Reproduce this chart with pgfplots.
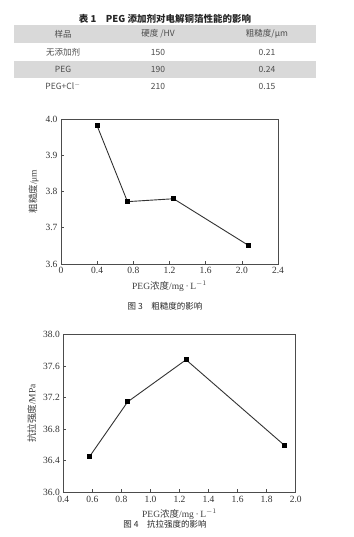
\documentclass[border=0pt]{standalone}
\usepackage{fontspec}
\setmainfont{Liberation Serif}
\newfontfamily\cjk{Noto Sans CJK SC}
\usepackage{pgfplots}
\pgfplotsset{compat=1.18}
\definecolor{tgray}{HTML}{D9D9D9}
\pgfplotsset{myax/.style={
  scale only axis, anchor=south west,
  xtick pos=lower, ytick pos=left, tick align=inside,
  major tick length=3pt,
  axis line style={black!70, line width=0.6pt},
  tick style={black!70, line width=0.6pt},
  tick label style={font=\fontsize{9.5}{11}\selectfont, text=black!80},
  label style={font=\fontsize{9.5}{11}\selectfont, text=black!75},
  /pgf/number format/assume math mode=true,
}, myplot/.style={line width=0.9pt, draw=black!80, mark=square*, mark size=2pt, mark options={fill=black, draw=black, solid}}}
\begin{document}
\begin{tikzpicture}[x=1pt,y=1pt]
\useasboundingbox (0,0) rectangle (353,537);
\fill[white] (0,0) rectangle (353,537);
% table
\fill[tgray] (14,494) rectangle (316,512);
\fill[tgray] (14,459) rectangle (316,476);
\node[font=\cjk\fontsize{9.5}{11}\selectfont\bfseries, text=black!85] at (165,518) {表 1\quad PEG 添加剂对电解铜箔性能的影响};
\begin{scope}[every node/.style={font=\cjk\fontsize{8.5}{10}\selectfont, text=black!70}]
\node at (63,503) {样品};
\node at (158,503) {硬度 /HV};
\node at (267,503) {粗糙度/μm};
\node at (63,485) {无添加剂};
\node at (158,485) {150};
\node at (267,485) {0.21};
\node at (63,467.5) {PEG};
\node at (158,467.5) {190};
\node at (267,467.5) {0.24};
\node at (63,451) {PEG+Cl$^{-}$};
\node at (158,451) {210};
\node at (267,451) {0.15};
\end{scope}
% chart 1
\begin{axis}[myax, at={(61pt,273pt)}, width=217pt, height=145pt,
  xmin=0, xmax=2.4, ymin=3.6, ymax=4.0,
  xtick={0,0.4,0.8,1.2,1.6,2.0,2.4}, xticklabels={0,0.4,0.8,1.2,1.6,2.0,2.4},
  ytick={3.6,3.7,3.8,3.9,4.0}, yticklabels={3.6,3.7,3.8,3.9,4.0},
  xlabel={PEG{\cjk 浓度}/mg\,·\,L$^{-1}$}, ylabel={{\cjk 粗糙度}/μm}]
\addplot[myplot] coordinates {(0.4,3.981)(0.735,3.772)(1.245,3.780)(2.075,3.651)};
\end{axis}
\node[font=\cjk\fontsize{8.5}{10}\selectfont, text=black!85] at (165,231) {图 3\quad 粗糙度的影响};
% chart 2
\begin{axis}[myax, at={(63.3pt,44.7pt)}, width=232.4pt, height=157.6pt,
  xmin=0.4, xmax=2.0, ymin=36.0, ymax=38.0,
  xtick={0.4,0.6,0.8,1.0,1.2,1.4,1.6,1.8,2.0}, xticklabels={0.4,0.6,0.8,1.0,1.2,1.4,1.6,1.8,2.0},
  ytick={36.0,36.4,36.8,37.2,37.6,38.0}, yticklabels={36.0,36.4,36.8,37.2,37.6,38.0},
  xlabel={PEG{\cjk 浓度}/mg\,·\,L$^{-1}$}, ylabel={{\cjk 抗拉强度}/MPa}]
\addplot[myplot] coordinates {(0.579,36.449)(0.843,37.148)(1.245,37.682)(1.92,36.60)};
\end{axis}
\node[font=\cjk\fontsize{8.5}{10}\selectfont, text=black!85] at (165,13) {图 4\quad 抗拉强度的影响};
\end{tikzpicture}
\end{document}
